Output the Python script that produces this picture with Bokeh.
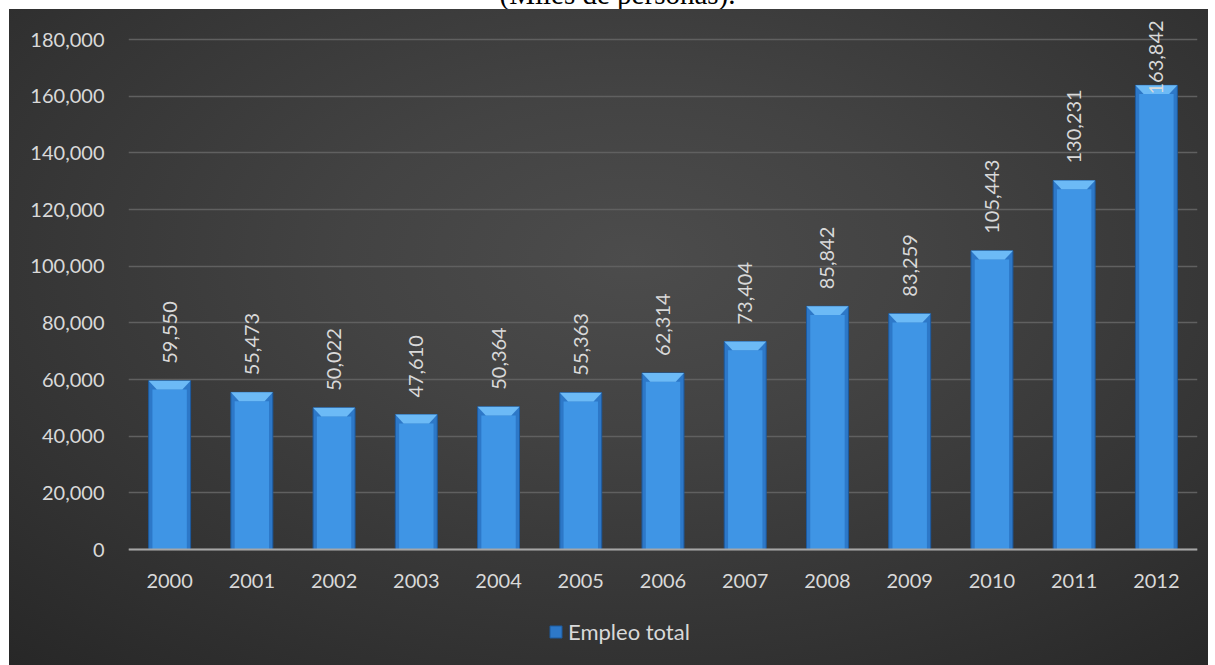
from math import pi

from bokeh.core.properties import value
from bokeh.embed import file_html
from bokeh.layouts import column
from bokeh.models import (Div, FixedTicker, Legend, LegendItem,
                          NumeralTickFormatter, Range1d)
from bokeh.plotting import figure
from bokeh.resources import INLINE

# ---- data -------------------------------------------------------------
years = ["2000", "2001", "2002", "2003", "2004", "2005", "2006",
         "2007", "2008", "2009", "2010", "2011", "2012"]
empleo = [59550, 55473, 50022, 47610, 50364, 55363, 62314,
          73404, 85842, 83259, 105443, 130231, 163842]
y_ticks = [0, 20000, 40000, 60000, 80000, 100000, 120000, 140000, 160000, 180000]
series_name = "Empleo total"
title_text = "(Miles de personas)."

# ---- style constants ----------------------------------------------------
FONT = "Lato"
TXT = "#d9d9d9"
W = 0.51          # bar width (fraction of category)
CAP = 3100        # bevel height in data units
BEV = 0.10        # bevel inset in category units
LABEL_LIMIT = 154600  # labels are kept inside the chart area

xs = list(range(len(years)))

# the frame runs to the bottom edge; the category axis sits at y = 0
p = figure(width=1199, height=656, output_backend="svg", toolbar_location=None,
           x_range=Range1d(-0.5, len(years) - 0.5),
           y_range=Range1d(-40946, 190611),
           min_border_left=119, min_border_right=11, min_border_top=0,
           min_border_bottom=0, margin=(0, 0, 0, 9))
p.background_fill_color = None
p.border_fill_color = None
p.outline_line_color = None
p.styles = {"background": "radial-gradient(ellipse 80% 85% at 52% 38%, #4c4c4c 0%, "
                          "#434343 30%, #333333 70%, #262626 100%)"}

# grid / axes
p.xgrid.visible = False
p.ygrid.grid_line_color = "#606060"
p.ygrid.grid_line_width = 1.5

p.yaxis.ticker = FixedTicker(ticks=y_ticks)
p.yaxis.formatter = NumeralTickFormatter(format="0,0")
p.yaxis.axis_line_color = None
p.yaxis.major_tick_line_color = None
p.yaxis.minor_tick_line_color = None
p.yaxis.major_label_standoff = 18

p.xaxis.fixed_location = 0
p.xaxis.ticker = FixedTicker(ticks=xs)
p.xaxis.major_label_overrides = {i: y for i, y in zip(xs, years)}
p.xaxis.axis_line_color = "#a6a6a6"
p.xaxis.axis_line_width = 2
p.xaxis.major_tick_line_color = None
p.xaxis.minor_tick_line_color = None
p.xaxis.major_label_standoff = 18

for ax in (p.xaxis[0], p.yaxis[0]):
    ax.major_label_text_color = TXT
    ax.major_label_text_font = FONT
    ax.major_label_text_font_size = "20px"

# bars (body, inner highlight, bevelled cap)
body = p.vbar(x=xs, top=empleo, bottom=0, width=W, fill_color="#2d78c8",
              line_color="#1d5a9e", line_width=1)
inner_top = [v - CAP for v in empleo]
p.vbar(x=xs, top=inner_top, bottom=0, width=W * 0.82, fill_color="#3f95e5",
       line_color=None)
cap_xs = [[x - W / 2, x + W / 2, x + W / 2 - BEV, x - W / 2 + BEV] for x in xs]
cap_ys = [[v, v, v - CAP, v - CAP] for v in empleo]
p.patches(cap_xs, cap_ys, fill_color="#6cbaf6", line_color=None)

# data labels
label_y = [min(v, LABEL_LIMIT) for v in empleo]
labels = [f"{v:,}" for v in empleo]
p.text(x=xs, y=label_y, text=labels, angle=pi / 2, text_align="left",
       text_baseline="middle", y_offset=-17, text_color=TXT,
       text_font=value(FONT), text_font_size="20px")

legend = Legend(items=[LegendItem(label=series_name, renderers=[body])],
                location=(420, 20), orientation="horizontal",
                background_fill_alpha=0, border_line_color=None,
                label_text_color=TXT, label_text_font=FONT,
                label_text_font_size="22px", glyph_width=15, glyph_height=15,
                label_standoff=5, padding=0, margin=0, spacing=0)
p.add_layout(legend)

title = Div(text='<span style="position:relative; top:-22px; left:10px">'
                 + title_text + '</span>',
            width=1215, height=9, margin=0,
            styles={"font-family": "'Liberation Serif'", "font-size": "29px",
                    "line-height": "normal", "text-align": "center",
                    "color": "#000000", "white-space": "nowrap"})

layout = column(title, p, spacing=0)
open("out.html", "w").write(file_html(layout, INLINE))
